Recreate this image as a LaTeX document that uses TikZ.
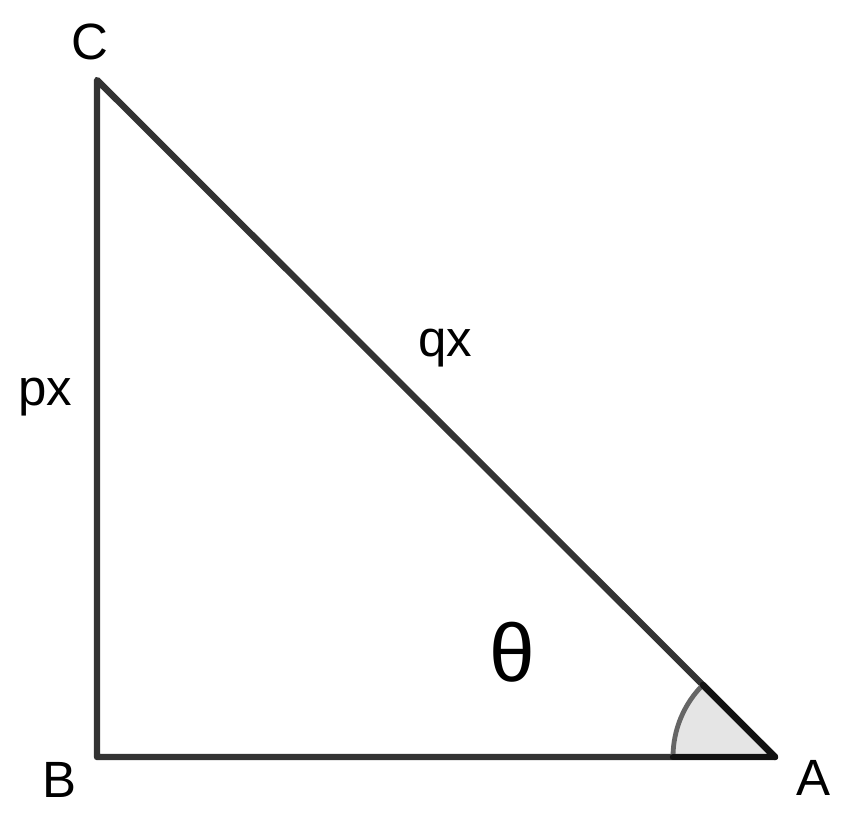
\documentclass[tikz,border=0pt]{standalone}
\usepackage{fontspec}
\setmainfont{Liberation Sans}
\begin{document}
\begin{tikzpicture}[x=0.5pt,y=-0.5pt,
  side/.style={draw=black!80,line width=3.2pt,line cap=round,line join=round},
  lab/.style={font=\fontsize{25.5}{30}\selectfont,inner sep=0pt},
  anglab/.style={font=\fontsize{41}{46}\selectfont,inner sep=0pt}]
\useasboundingbox (0,0) rectangle (850,815);
\coordinate (A) at (775,757);
\coordinate (B) at (97,757);
\coordinate (C) at (97,80);
\fill[black!10] (A) -- ++(180:102) arc[start angle=180,end angle=225,radius=102] -- cycle;
\draw[side] (A) -- (B) -- (C) -- cycle;
\draw[draw=black!60,line width=2.4pt] (A) ++(180:102) arc[start angle=180,end angle=225,radius=102];
\draw[draw=black!93,line width=3.2pt,line cap=round] (A) -- ++(180:102);
\draw[draw=black!93,line width=3.2pt,line cap=round] (A) -- ++(225:102);
\node[lab] (lC) at (90,42) {C};
\node[lab] (lB) at (60,780) {B};
\node[lab] (lA) at (813,778) {A};
\node[lab] (lp) at (45,397) {px};
\node[lab] (lq) at (445,348) {qx};
\node[anglab] (lt) at (512,652) {θ};
\end{tikzpicture}
\end{document}
